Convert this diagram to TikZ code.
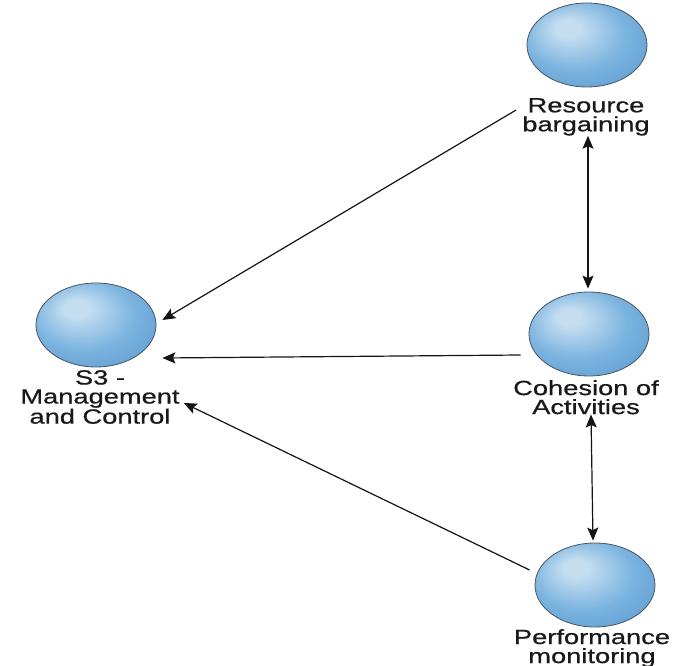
\documentclass[tikz,border=0pt]{standalone}
\usepackage{fontspec}
\newfontfamily\lblfont[FakeStretch=1.33,FakeBold=0.6]{Liberation Sans}
\usetikzlibrary{shapes.geometric,arrows.meta,calc}

\definecolor{orbhi}{RGB}{196,222,240}
\definecolor{orbmid}{RGB}{124,180,224}
\definecolor{orblow}{RGB}{88,152,206}
\definecolor{orbdeep}{RGB}{66,124,178}
\definecolor{orbrim}{RGB}{72,84,98}
\definecolor{inkline}{RGB}{20,20,20}

% sphere-like fill with a soft highlight up and to the left of centre
\pgfdeclareradialshading{orb}{\pgfpoint{-9bp}{11bp}}{%
  color(0bp)=(orbhi); color(5bp)=(orbhi);
  color(21bp)=(orbmid); color(38bp)=(orblow);
  color(47bp)=(orbdeep); color(50bp)=(orbdeep)}

\tikzset{
  orbnode/.style={ellipse, minimum width=120pt, minimum height=84pt,
    inner sep=0pt, shade, shading=orb, draw=orbrim, line width=0.8pt},
  lbl/.style={align=center, inner sep=0pt, anchor=north, text=black!90,
    font=\lblfont\fontsize{20.5pt}{19pt}\selectfont},
  tip/.style={Stealth[length=13pt,width=11pt,inset=2.5pt]},
  link/.style={draw=inkline, line width=1.2pt, -{Stealth[length=13pt,width=11pt,inset=2.5pt]}},
  twoway/.style={draw=inkline, line width=1.2pt,
    {Stealth[length=13pt,width=11pt,inset=2.5pt]}-{Stealth[length=13pt,width=11pt,inset=2.5pt]}}
}

\begin{document}
\begin{tikzpicture}[x=1pt,y=-1pt]
  \useasboundingbox[fill=white] (0,0) rectangle (675,666);

  % spheres
  \node[orbnode] (res)  at (587,45)  {};
  \node[orbnode] (s3)   at (96,325)  {};
  \node[orbnode] (coh)  at (589,334) {};
  \node[orbnode] (perf) at (595,585) {};

  % captions
  \node[lbl] (reslbl)  at (586,98)  {Resource\\bargaining};
  \node[lbl] (s3lbl)   at (100,370) {S3 -\\Management\\and Control};
  \node[lbl] (cohlbl)  at (586,380) {Cohesion of\\Activities};
  \node[lbl] (perflbl) at (592,629) {Performance\\monitoring};

  % connectors into S3
  \draw[link] ($(reslbl.north west)+(-6,12)$) -- ($(s3.east)+(6,-5)$);
  \draw[link] ($(coh.west)+(-8,21)$) -- ($(s3.east)+(6,33)$);
  \draw[link] ($(perf.west)+(-5,-15)$) -- ($(s3lbl.north east)+(4,33)$);

  % two-way links along the right column
  \draw[twoway] ($(reslbl.south)+(2,0)$) -- ($(coh.north)+(-1,-3)$);
  \draw[twoway] ($(cohlbl.south)+(5,0)$) -- ($(perf.north)+(-2,-2)$);
\end{tikzpicture}
\end{document}
